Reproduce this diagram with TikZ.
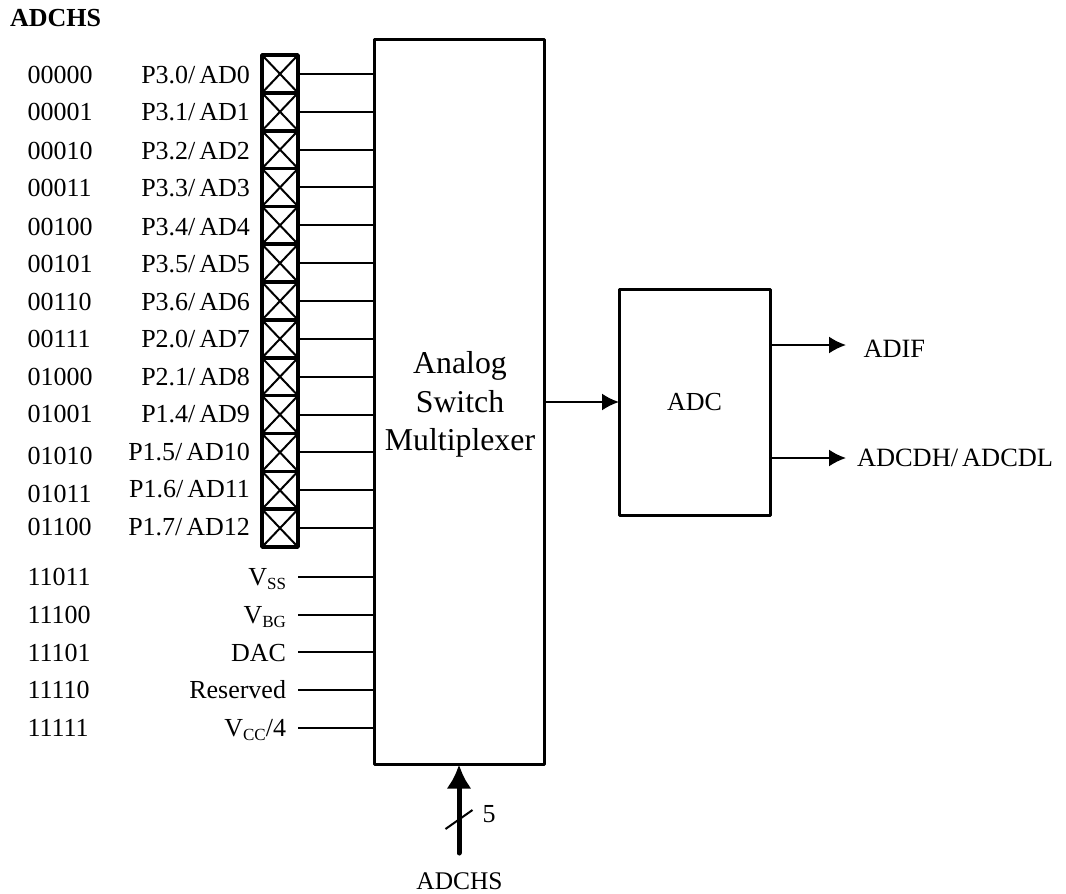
\documentclass[tikz,border=0pt]{standalone}
\usepackage{fontspec}
\setmainfont{Liberation Serif}
\usetikzlibrary{arrows.meta}
\newcommand{\Sl}{/\kern4pt}
\newcommand{\Sb}[1]{\raisebox{-4pt}{\fontsize{17}{17}\selectfont #1}}
\tikzset{
  x=1pt,y=-1pt,
  every node/.style={font=\fontsize{26}{30}\selectfont,inner sep=0pt,outer sep=0pt},
  blockbox/.style={draw,line width=3pt,line join=round,rectangle,anchor=north west},
  cellbox/.style={draw,line width=3.6pt,line join=round,rectangle,minimum width=36pt,minimum height=37.85pt,anchor=north west},
  xline/.style={line width=2pt},
  wire/.style={line width=2pt},
  sigarrow/.style={line width=2pt,-{Latex[length=17pt,width=17pt]}},
  busarrow/.style={line width=5pt,line cap=round,-{Latex[length=24pt,width=25pt]}},
  codelabel/.style={anchor=base west},
  portlabel/.style={anchor=base east},
  sidelabel/.style={anchor=base west,font=\fontsize{26.4}{30}\selectfont},
  muxlabel/.style={anchor=base,font=\fontsize{31.8}{38}\selectfont},
}
\begin{document}
\begin{tikzpicture}
\useasboundingbox (0,0) rectangle (1066,894);
\node[anchor=base west,font=\fontsize{26}{30}\selectfont\bfseries] (title) at (10,27) {ADCHS};
\node[blockbox,minimum width=170pt,minimum height=725pt] (mux) at (374.5,39.5) {};
\node[blockbox,minimum width=151pt,minimum height=226pt] (adc) at (619,289) {};
\node[muxlabel] (muxa) at (460,373) {Analog};
\node[muxlabel] (muxb) at (460,412) {Switch};
\node[muxlabel] (muxc) at (460,450) {Multiplexer};
\node[anchor=base] (adctext) at (694.5,410) {ADC};
% channel cells
\foreach \i/\code/\cy/\port/\py in {
  0/00000/83/P3.0\Sl AD0/83,
  1/00001/120.5/P3.1\Sl AD1/120.5,
  2/00010/159.3/P3.2\Sl AD2/159.3,
  3/00011/196.7/P3.3\Sl AD3/196.7,
  4/00100/235/P3.4\Sl AD4/235,
  5/00101/272.7/P3.5\Sl AD5/272.7,
  6/00110/310/P3.6\Sl AD6/310,
  7/00111/347.3/P2.0\Sl AD7/347.3,
  8/01000/385/P2.1\Sl AD8/385,
  9/01001/422.3/P1.4\Sl AD9/422.3,
  10/01010/464/P1.5\Sl AD10/460,
  11/01011/502.3/P1.6\Sl AD11/497.7,
  12/01100/535.7/P1.7\Sl AD12/535.7}{
  \pgfmathsetmacro{\celltop}{55+37.85*\i}
  \node[cellbox] (c\i) at (262,\celltop) {};
  \draw[xline] (c\i.north west) -- (c\i.south east);
  \draw[xline] (c\i.south west) -- (c\i.north east);
  \draw[wire] (c\i.east) -- (c\i.east -| mux.west);
  \node[codelabel] (code\i) at (27.5,\cy) {\code};
  \node[portlabel] (port\i) at (250,\py) {\port};
}
% internal channels
\foreach \n/\code/\y/\base/\lab in {
  vss/11011/577/585/{V\Sb{SS}},
  vbg/11100/615/623/{V\Sb{BG}},
  dac/11101/652/661.7/{DAC},
  res/11110/690/698.5/{Reserved},
  vcc/11111/728/736.7/{V\Sb{CC}/4}}{
  \node[codelabel] (code\n) at (27.5,\base) {\code};
  \node[portlabel] (lab\n) at (286,\base) {\lab};
  \coordinate (start\n) at (298,\y);
  \draw[wire] (start\n) -- (start\n -| mux.west);
}
% right side
\draw[sigarrow] (mux.east |- adc.west) -- (adc.west);
\coordinate (adifend) at (846,345);
\coordinate (dataend) at (846,458);
\draw[sigarrow] (adifend -| adc.east) -- (adifend);
\draw[sigarrow] (dataend -| adc.east) -- (dataend);
\node[sidelabel] (adif) at (863.5,357.3) {ADIF};
\node[sidelabel] (data) at (857,466.7) {ADCDH\Sl ADCDL};
% bus
\node[anchor=base,font=\fontsize{25.4}{30}\selectfont] (chs) at (459.5,889) {ADCHS};
\coordinate (busstart) at (459,853);
\draw[busarrow] (busstart) -- (busstart |- mux.south);
\coordinate (tick1) at (445.5,829);
\coordinate (tick2) at (472.5,810);
\draw[wire] (tick1) -- (tick2);
\node[anchor=base] (five) at (489,822.7) {5};
\end{tikzpicture}
\end{document}
